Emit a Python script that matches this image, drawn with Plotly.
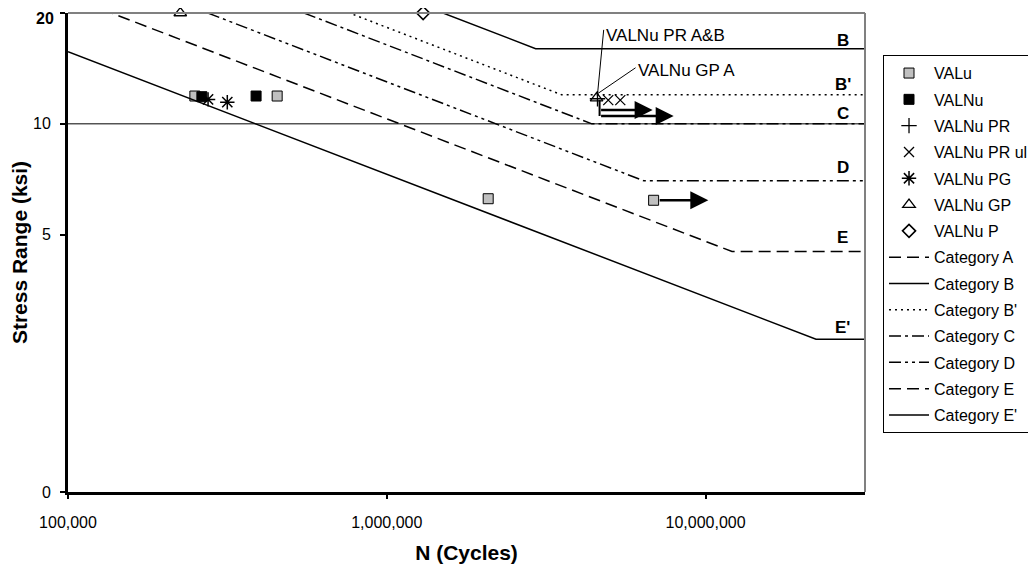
import math
import plotly.graph_objects as go

FONT = "Liberation Sans, Arial, sans-serif"

# ---------------- data ----------------
# test points (N cycles, stress range ksi)
valu_N = [2.50e5, 4.53e5, 2.08e6, 6.87e6]
valu_S = [11.9, 11.9, 6.26, 6.2]

valnu_N = [2.63e5, 3.89e5]
valnu_S = [11.85, 11.9]

valnu_pr_N = [4.58e6]
valnu_pr_S = [11.7]

valnu_prul_N = [4.95e6, 5.40e6]
valnu_prul_S = [11.6, 11.6]

valnu_pg_N = [2.75e5, 3.16e5]
valnu_pg_S = [11.65, 11.45]

valnu_gp_N = [2.25e5, 4.55e6]
valnu_gp_S = [20.0, 11.75]

valnu_p_N = [1.30e6]
valnu_p_S = [20.0]

# AASHTO detail category curves (N, S)
cat_names = ["Category A", "Category B", "Category B'", "Category C",
             "Category D", "Category E", "Category E'"]
cat_N = [
    [1e5, 1.81e6, 3.2e7],
    [1e5, 2.93e6, 3.2e7],
    [1e5, 3.53e6, 3.2e7],
    [1e5, 4.40e6, 3.2e7],
    [1e5, 6.41e6, 3.2e7],
    [1e5, 1.21e7, 3.2e7],
    [1e5, 2.22e7, 3.2e7],
]
cat_S = [
    [63.0, 24.0, 24.0],
    [49.3, 16.0, 16.0],
    [39.4, 12.0, 12.0],
    [35.3, 10.0, 10.0],
    [28.0, 7.0, 7.0],
    [22.2, 4.5, 4.5],
    [15.7, 2.6, 2.6],
]
cat_labels = ["B", "B'", "C", "D", "E", "E'"]
cat_label_S = [16.8, 12.8, 10.7, 7.6, 4.9, 2.80]

# run-out arrows: (start N, end N, S)
runout_arrows = [(4.65e6, 6.82e6, 10.9), (4.65e6, 7.94e6, 10.5), (7.1e6, 1.02e7, 6.2)]

y_tickvals = [1, 5, 10, 20]
y_ticktext = ["0", "5", "10", ""]
y_top_label = "20"
x_tickvals = [1e5, 1e6, 1e7]
x_ticktext = ["100,000", "1,000,000", "10,000,000"]

# ---------------- styles ----------------
cat_dash = ["12px,6px", "solid", "2px,4px", "12px,4px,3px,4px",
            "12px,4px,3px,4px,3px,4px", "12px,6px", "solid"]

L = math.log10

fig = go.Figure()

gi = [0]
def grp():
    gi[0] += 1
    return "g%d" % gi[0]

def add_pts(N, S, name, symbol, color, lcolor="black", lw=1, size=10):
    fig.add_trace(go.Scatter(
        x=N, y=S, mode="markers", name=name, legendgroup=grp(),
        cliponaxis=False,
        marker=dict(symbol=symbol, size=size, color=color,
                    line=dict(color=lcolor, width=lw))))

add_pts(valu_N, valu_S, "VALu", "square", "#C0C0C0", size=10)
add_pts(valnu_N, valnu_S, "VALNu", "square", "black", size=10)
add_pts(valnu_pr_N, valnu_pr_S, "VALNu PR", "cross-thin", "black", lw=1.3, size=11)
add_pts(valnu_prul_N, valnu_prul_S, "VALNu PR ul", "x-thin", "black", lw=1.3, size=10)
add_pts(valnu_pg_N, valnu_pg_S, "VALNu PG", "asterisk", "black", lw=1.5, size=12)
add_pts(valnu_gp_N, valnu_gp_S, "VALNu GP", "triangle-up-open", "black", lw=1.3, size=11)
add_pts(valnu_p_N, valnu_p_S, "VALNu P", "diamond-open", "black", lw=1.6, size=10)

for name, N, S, d in zip(cat_names, cat_N, cat_S, cat_dash):
    fig.add_trace(go.Scatter(
        x=N, y=S, mode="lines", name=name, legendgroup=grp(),
        line=dict(color="black", width=1.5, dash=d)))

shapes = []
# single major gridline at 10 ksi
shapes.append(dict(type="line", xref="paper", x0=0, x1=1, yref="y", y0=10, y1=10,
                   line=dict(color="black", width=1), layer="below"))
# top / right border (gray)
shapes.append(dict(type="line", xref="paper", yref="paper", x0=0, x1=1, y0=1, y1=1,
                   line=dict(color="#808080", width=2)))
shapes.append(dict(type="line", xref="paper", yref="paper", x0=1, x1=1, y0=0, y1=1,
                   line=dict(color="#808080", width=2)))
# leader lines for callouts
shapes.append(dict(type="line", xref="x", yref="y", x0=4.58e6, y0=12.0, x1=4.79e6, y1=18.0,
                   line=dict(color="black", width=1)))
shapes.append(dict(type="line", xref="x", yref="y", x0=4.60e6, y0=12.1, x1=6.03e6, y1=14.2,
                   line=dict(color="black", width=1)))
# vertical connector for run-out arrows
shapes.append(dict(type="line", xref="x", yref="y", x0=4.65e6, y0=11.6, x1=4.65e6, y1=10.5,
                   line=dict(color="black", width=2)))

annotations = []
for (x0, x1, yv) in runout_arrows:
    annotations.append(dict(x=L(x1), y=L(yv), ax=L(x0), ay=L(yv), xref="x", yref="y",
                            axref="x", ayref="y", text="", showarrow=True,
                            arrowhead=2, arrowsize=1.5, arrowwidth=2.4,
                            arrowcolor="black", standoff=0))
# callout texts
annotations.append(dict(x=L(4.79e6), y=L(17.4), xref="x", yref="y", text="VALNu PR A&B",
                        showarrow=False, xanchor="left", yanchor="middle",
                        font=dict(family=FONT, size=17, color="black")))
annotations.append(dict(x=L(6.03e6), y=L(14.0), xref="x", yref="y", text="VALNu GP A",
                        showarrow=False, xanchor="left", yanchor="middle",
                        font=dict(family=FONT, size=17, color="black")))
# category labels
for lab, sv in zip(cat_labels, cat_label_S):
    annotations.append(dict(x=0.972, y=L(sv), xref="paper", yref="y", text="<b>%s</b>" % lab,
                            showarrow=False, xanchor="center", yanchor="middle",
                            font=dict(family=FONT, size=17, color="black")))
# top y tick label (placed slightly below the top edge, as in the reference)
annotations.append(dict(x=0, y=L(y_tickvals[-1]), xref="paper", yref="y",
                        text="<b>%s</b>" % y_top_label, showarrow=False,
                        xanchor="right", yanchor="middle", xshift=-12, yshift=-5,
                        font=dict(family=FONT, size=16, color="black")))

# page body adds an 8px offset, so the figure is 8px smaller and margins shifted
fig.update_layout(
    width=1028, height=557,
    margin=dict(l=60, r=171, t=5, b=73, autoexpand=False),
    paper_bgcolor="white", plot_bgcolor="white",
    font=dict(family=FONT, size=16, color="black"),
    showlegend=True,
    legend=dict(x=1.0226, y=0.912, xanchor="left", yanchor="top",
                bordercolor="black", borderwidth=1, bgcolor="white",
                font=dict(family=FONT, size=16, color="black"),
                tracegroupgap=2.5, itemwidth=40),
    shapes=shapes, annotations=annotations,
)

fig.update_xaxes(type="log", range=[5, 7.5], tickvals=x_tickvals, ticktext=x_ticktext,
                 automargin=False,
                 showgrid=False, zeroline=False, showline=True, linecolor="black",
                 linewidth=3, ticks="outside", ticklen=4, tickwidth=2, tickcolor="black",
                 ticklabelstandoff=10, ticklabeloverflow="allow",
                 tickfont=dict(family=FONT, size=16),
                 title=dict(text="<b>N (Cycles)</b>", font=dict(family=FONT, size=21),
                            standoff=16))
fig.update_yaxes(type="log", range=[0, 1.30103], tickvals=y_tickvals, ticktext=y_ticktext,
                 automargin=False,
                 showgrid=False, zeroline=False, showline=True, linecolor="black",
                 linewidth=3, ticks="outside", ticklen=5, tickwidth=2, tickcolor="black",
                 ticklabelstandoff=6, ticklabeloverflow="allow",
                 tickfont=dict(family=FONT, size=16),
                 title=dict(text="<b>Stress Range (ksi)</b>", font=dict(family=FONT, size=21),
                            standoff=16))

fig.write_html("out.html")
